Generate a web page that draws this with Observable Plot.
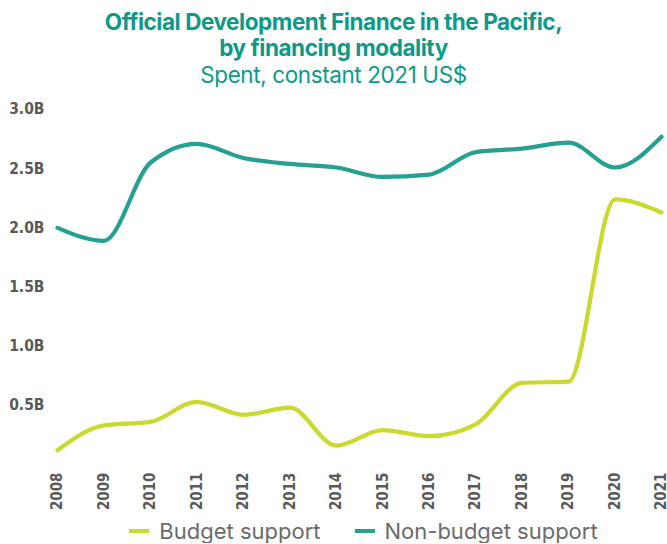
<!DOCTYPE html>
<html>
<head>
<meta charset="utf-8">
<script src="https://cdn.jsdelivr.net/npm/d3@7"></script>
<script src="https://cdn.jsdelivr.net/npm/@observablehq/plot@0.6"></script>
<style>
  body { margin: 0; background: #fff; width: 667px; font-family: Inter, "Noto Sans", sans-serif; }
  #title { text-align: center; color: #0b9a89; padding-top: 9px; height: 86px; overflow: hidden; }
  #title .t { font-weight: 700; font-size: 22.5px; line-height: 26px; letter-spacing: -0.45px; }
  #title .s { font-weight: 400; font-size: 22.5px; line-height: 27px; letter-spacing: -0.4px; }
  #legend { display: flex; justify-content: center; gap: 34px; font-size: 22px; line-height: 24px; color: #6b6b6b; margin-top: 4px; padding-left: 60px; }
  #legend span.item { display: inline-flex; align-items: center; }
  #legend span.sw { display: inline-block; width: 20px; height: 4px; margin-right: 10px; }
</style>
</head>
<body>
<div id="title">
  <div class="t">Official Development Finance in the Pacific,<br>by financing modality</div>
  <div class="s">Spent, constant 2021 US$</div>
</div>
<div id="chart"></div>
<div id="legend"></div>
<script>
const years = [2008, 2009, 2010, 2011, 2012, 2013, 2014, 2015, 2016, 2017, 2018, 2019, 2020, 2021];
const budgetSupport = [0.12, 0.33, 0.36, 0.53, 0.42, 0.48, 0.16, 0.29, 0.24, 0.34, 0.69, 0.70, 2.24, 2.13];
const nonBudgetSupport = [2.00, 1.89, 2.55, 2.71, 2.59, 2.54, 2.51, 2.43, 2.45, 2.64, 2.67, 2.72, 2.51, 2.77];
const seriesNames = ["Budget support", "Non-budget support"];
const seriesColors = ["#c9d92e", "#26a093"];
const yTicks = [0.5, 1.0, 1.5, 2.0, 2.5, 3.0];

const data = [];
years.forEach((y, i) => {
  data.push({year: y, value: budgetSupport[i], series: seriesNames[0]});
  data.push({year: y, value: nonBudgetSupport[i], series: seriesNames[1]});
});

const axisFont = "'DejaVu Sans Condensed', 'Liberation Sans Narrow', sans-serif";

const chart = Plot.plot({
  width: 667,
  height: 420,
  marginTop: 14,
  marginLeft: 57,
  marginRight: 6,
  marginBottom: 51,
  style: { fontFamily: axisFont, fontSize: "15px", color: "#5a5a5a", overflow: "visible" },
  x: { domain: [2008, 2021] },
  y: { domain: [0, 3] },
  color: { domain: seriesNames, range: seriesColors },
  marks: [
    Plot.gridY(yTicks, { stroke: "#d6d6d6", strokeOpacity: 1, strokeWidth: 1.5, x1: 55, x2: 667 }),
    Plot.ruleY([0], { stroke: "#d6d6d6", strokeWidth: 1.5, x1: 55, x2: 667 }),
    Plot.axisY(yTicks, { tickSize: 0, tickPadding: 13, fontSize: 15.5, tickFormat: d => d.toFixed(1) + "B", fontWeight: "bold", fill: "#5a5a5a", label: null }),
    Plot.axisX(years, { tickSize: 0, tickPadding: 8, fontSize: 15, tickRotate: -90, tickFormat: d => String(d), fontWeight: "bold", fill: "#5a5a5a", label: null }),
    Plot.line(data, { x: "year", y: "value", stroke: "series", strokeWidth: 4.2, curve: "monotone-x" })
  ]
});
document.getElementById("chart").appendChild(chart);

const legend = document.getElementById("legend");
seriesNames.forEach((n, i) => {
  const item = document.createElement("span");
  item.className = "item";
  const sw = document.createElement("span");
  sw.className = "sw";
  sw.style.background = seriesColors[i];
  item.appendChild(sw);
  item.appendChild(document.createTextNode(n));
  legend.appendChild(item);
});
</script>
</body>
</html>
